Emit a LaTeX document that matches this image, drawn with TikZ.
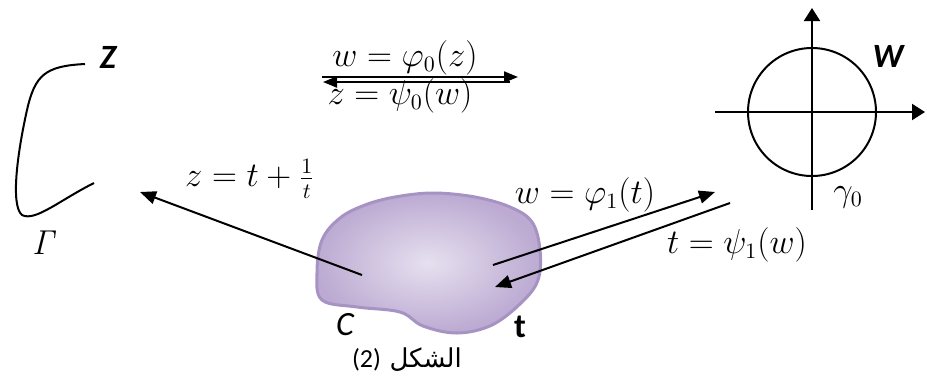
\documentclass[tikz,border=0pt]{standalone}
\usepackage[no-math]{fontspec}
\newfontfamily\carlito{Carlito}
\newfontfamily\arabicfont[Script=Arabic]{DejaVu Sans}
\TeXXeTstate=1
\usetikzlibrary{arrows.meta}

\definecolor{blobout}{HTML}{BCAAD2}
\definecolor{blobin}{HTML}{E6E0EF}
\definecolor{blobline}{HTML}{A693C4}

\begin{document}
\begin{tikzpicture}[
  x=0.5pt,y=-0.5pt,
  font=\fontsize{16}{19}\selectfont,
  >={Triangle[length=8pt,width=6.5pt]},
  map/.style={draw,line width=1pt,->},
  axis/.style={draw,line width=1pt,-{Triangle[length=6.5pt,width=8pt]}},
  plane/.style={font=\carlito\bfseries\itshape\fontsize{17}{19}\selectfont,inner sep=0pt},
  mlabel/.style={inner sep=0pt}
]
\useasboundingbox (0,0) rectangle (927,387);

% Z plane: contour Gamma
\draw[line width=1pt] (85,64) .. controls (45,66) and (35,75) .. (27,110)
  .. controls (18,150) and (10,205) .. (22,215)
  .. controls (35,222) and (60,200) .. (94,183);
\node[plane] (zname) at (108,57) {Z};
\node[mlabel] (gamma) at (45,243) {$\mathit{\Gamma}$};

% t plane: the region
\shade[inner color=blobin,outer color=blobout,draw=blobline,line width=1.5pt]
  plot[smooth cycle,tension=0.6] coordinates {
  (317,273) (322,240) (340,218) (365,205) (395,197) (433,193) (475,197)
  (510,207) (532,222) (540,250) (538,280) (522,302) (492,325) (457,333)
  (423,326) (400,312) (357,307) (322,300)};
\node[font=\carlito\itshape\fontsize{17}{19}\selectfont,inner sep=0pt] (cname) at (345,325) {C};
\node[font=\carlito\bfseries\fontsize{17}{19}\selectfont,inner sep=0pt] (tname) at (520,327) {t};

% W plane: axes and unit circle
\coordinate (xl) at (715,112);
\coordinate (xr) at (925,112);
\coordinate (yb) at (812,210);
\coordinate (yt) at (812,8);
\draw[axis] (xl) -- (xr);
\draw[axis] (yb) -- (yt);
\draw[line width=1pt] (812,112) circle[radius=64];
\node[plane] (wname) at (888,56) {W};
\node[mlabel] (gam0) at (848,197) {$\gamma_0$};

% maps Z <-> W
\coordinate (za) at (322,77);
\coordinate (wa) at (518,77);
\coordinate (wb) at (510,82);
\coordinate (zb) at (323,82);
\draw[map,-{Triangle[length=7pt,width=5.5pt]}] (za) -- (wa);
\draw[map,-{Triangle[length=7pt,width=5.5pt]}] (wb) -- (zb);
\node[mlabel] (phi0) at (405,58) {$w=\varphi_0(z)$};
\node[mlabel] (psi0) at (400,96) {$z=\psi_0(w)$};

% map t -> Z
\coordinate (tz) at (362,275);
\coordinate (zt) at (140,192);
\draw[map] (tz) -- (zt);
\node[mlabel] (joukowski) at (250,179) {$z=t+\frac{1}{t}$};

% maps t <-> W
\coordinate (tw) at (493,265);
\coordinate (wt) at (715,192);
\coordinate (wt2) at (730,203);
\coordinate (tw2) at (495,287);
\draw[map] (tw) -- (wt);
\draw[map] (wt2) -- (tw2);
\node[mlabel] (phi1) at (585,195) {$w=\varphi_1(t)$};
\node[mlabel] (psi1) at (737,245) {$t=\psi_1(w)$};

% caption
\node[font=\fontsize{13}{15}\selectfont,inner sep=0pt] (caption) at (407,360)
  {{\carlito (2)} {\arabicfont\beginR الشكل\endR}};
\end{tikzpicture}
\end{document}
